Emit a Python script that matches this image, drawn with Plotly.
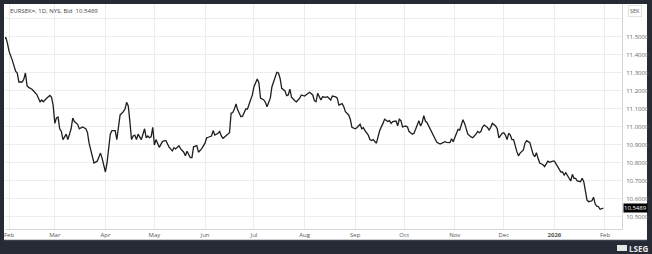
import plotly.graph_objects as go

dates = [
    "2025-01-29", "2025-01-30", "2025-01-31",
    "2025-02-01", "2025-02-03", "2025-02-04", "2025-02-05", "2025-02-06", "2025-02-07", "2025-02-09",
    "2025-02-10", "2025-02-11", "2025-02-12", "2025-02-13", "2025-02-15", "2025-02-16", "2025-02-18",
    "2025-02-19", "2025-02-20", "2025-02-21", "2025-02-22", "2025-02-24", "2025-02-26", "2025-02-27",
    "2025-02-28",
    "2025-03-01", "2025-03-02", "2025-03-03", "2025-03-04", "2025-03-05", "2025-03-06", "2025-03-08",
    "2025-03-09", "2025-03-11", "2025-03-12", "2025-03-13", "2025-03-15", "2025-03-16", "2025-03-18",
    "2025-03-20", "2025-03-21", "2025-03-22", "2025-03-24", "2025-03-25", "2025-03-27", "2025-03-28",
    "2025-03-29", "2025-03-30", "2025-03-31",
    "2025-04-01", "2025-04-02", "2025-04-04", "2025-04-05", "2025-04-07", "2025-04-08", "2025-04-09",
    "2025-04-10", "2025-04-12", "2025-04-13", "2025-04-14", "2025-04-15", "2025-04-16", "2025-04-17",
    "2025-04-18", "2025-04-19", "2025-04-20", "2025-04-21", "2025-04-22", "2025-04-23", "2025-04-25",
    "2025-04-26", "2025-04-27", "2025-04-28", "2025-04-29", "2025-04-30",
    "2025-05-01", "2025-05-02", "2025-05-04", "2025-05-06", "2025-05-08", "2025-05-09", "2025-05-10",
    "2025-05-12", "2025-05-13", "2025-05-14", "2025-05-16", "2025-05-17", "2025-05-19", "2025-05-20",
    "2025-05-21", "2025-05-23", "2025-05-24", "2025-05-25", "2025-05-27", "2025-05-28", "2025-05-30",
    "2025-06-01", "2025-06-02", "2025-06-03", "2025-06-05", "2025-06-06", "2025-06-07", "2025-06-09",
    "2025-06-10", "2025-06-11", "2025-06-12", "2025-06-13", "2025-06-15", "2025-06-16", "2025-06-17",
    "2025-06-18", "2025-06-19", "2025-06-20", "2025-06-21", "2025-06-23", "2025-06-24", "2025-06-26",
    "2025-06-27", "2025-06-28", "2025-06-30",
    "2025-07-01", "2025-07-03", "2025-07-04", "2025-07-05", "2025-07-07", "2025-07-08", "2025-07-09",
    "2025-07-11", "2025-07-12", "2025-07-14", "2025-07-15", "2025-07-16", "2025-07-17", "2025-07-18",
    "2025-07-20", "2025-07-21", "2025-07-22", "2025-07-23", "2025-07-24", "2025-07-26", "2025-07-27",
    "2025-07-29", "2025-07-30",
    "2025-08-01", "2025-08-02", "2025-08-04", "2025-08-06", "2025-08-07", "2025-08-08", "2025-08-09",
    "2025-08-11", "2025-08-12", "2025-08-14", "2025-08-15", "2025-08-17", "2025-08-18", "2025-08-20",
    "2025-08-21", "2025-08-22", "2025-08-24", "2025-08-25", "2025-08-26", "2025-08-28", "2025-08-29",
    "2025-08-30",
    "2025-09-01", "2025-09-02", "2025-09-04", "2025-09-05", "2025-09-06", "2025-09-07", "2025-09-09",
    "2025-09-10", "2025-09-11", "2025-09-12", "2025-09-14", "2025-09-15", "2025-09-16", "2025-09-18",
    "2025-09-19", "2025-09-21", "2025-09-22", "2025-09-23", "2025-09-24", "2025-09-26", "2025-09-27",
    "2025-09-28", "2025-09-29", "2025-09-30",
    "2025-10-02", "2025-10-03", "2025-10-04", "2025-10-06", "2025-10-07", "2025-10-08", "2025-10-10",
    "2025-10-11", "2025-10-12", "2025-10-13", "2025-10-14", "2025-10-15", "2025-10-17", "2025-10-18",
    "2025-10-20", "2025-10-21", "2025-10-23", "2025-10-25", "2025-10-26", "2025-10-27", "2025-10-29",
    "2025-10-30", "2025-10-31",
    "2025-11-03", "2025-11-04", "2025-11-05", "2025-11-06", "2025-11-07", "2025-11-08", "2025-11-09",
    "2025-11-11", "2025-11-12", "2025-11-14", "2025-11-15", "2025-11-16", "2025-11-17", "2025-11-18",
    "2025-11-19", "2025-11-21", "2025-11-22", "2025-11-23", "2025-11-24", "2025-11-26", "2025-11-27",
    "2025-11-28", "2025-11-30",
    "2025-12-01", "2025-12-02", "2025-12-03", "2025-12-04", "2025-12-05", "2025-12-06", "2025-12-07",
    "2025-12-08", "2025-12-09", "2025-12-10", "2025-12-11", "2025-12-13", "2025-12-14", "2025-12-15",
    "2025-12-17", "2025-12-18", "2025-12-19", "2025-12-20", "2025-12-21", "2025-12-22", "2025-12-23",
    "2025-12-25", "2025-12-26", "2025-12-28", "2025-12-29", "2025-12-31",
    "2026-01-01", "2026-01-02", "2026-01-04", "2026-01-05", "2026-01-06", "2026-01-07", "2026-01-08",
    "2026-01-10", "2026-01-11", "2026-01-12", "2026-01-13", "2026-01-14", "2026-01-15", "2026-01-17",
    "2026-01-18", "2026-01-19", "2026-01-20", "2026-01-21", "2026-01-22", "2026-01-24", "2026-01-25",
    "2026-01-26", "2026-01-27", "2026-01-28", "2026-01-29", "2026-01-31",
]

eursek = [
    11.487, 11.498, 11.465,
    11.42, 11.37, 11.335, 11.31, 11.30, 11.25, 11.25, 11.265, 11.30, 11.23, 11.22, 11.21, 11.20,
    11.18, 11.16, 11.14, 11.15, 11.14, 11.16, 11.175, 11.165, 11.12,
    11.02, 11.05, 11.055, 10.99, 10.975, 10.93, 10.96, 10.93, 10.99, 11.05, 11.03, 11.015, 10.99,
    11.00, 10.99, 10.97, 10.91, 10.826, 10.80, 10.81, 10.835, 10.855, 10.826, 10.78,
    10.75, 10.80, 10.96, 10.98, 10.98, 10.93, 11.00, 11.067, 11.085, 11.10, 11.137, 11.117, 11.03,
    10.93, 10.95, 10.955, 10.93, 10.96, 10.945, 10.93, 10.99, 10.94, 10.95, 10.94, 10.945, 10.998,
    10.90, 10.93, 10.887, 10.92, 10.925, 10.91, 10.888, 10.867, 10.885, 10.878, 10.896, 10.88,
    10.86, 10.84, 10.865, 10.83, 10.83, 10.89, 10.896, 10.86, 10.88,
    10.91, 10.94, 10.943, 10.95, 10.98, 10.955, 10.965, 10.975, 10.95, 10.937, 10.945, 10.96,
    10.968, 11.076, 11.08, 11.10, 11.128, 11.095, 11.057, 11.06, 11.10, 11.10, 11.13, 11.178,
    11.224, 11.267, 11.246, 11.16, 11.15, 11.137, 11.113, 11.16, 11.224, 11.28, 11.304, 11.30,
    11.27, 11.215, 11.20, 11.174, 11.178, 11.21, 11.165, 11.146, 11.14, 11.16, 11.178,
    11.172, 11.178, 11.193, 11.178, 11.146, 11.14, 11.187, 11.15, 11.168, 11.165, 11.168, 11.15,
    11.172, 11.168, 11.16, 11.122, 11.13, 11.113, 11.085, 11.067, 11.043, 10.998,
    10.99, 10.996, 11.015, 10.99, 10.996, 10.98, 10.955, 10.93, 10.925, 10.93, 10.91, 10.945,
    10.98, 11.02, 11.043, 11.03, 11.035, 11.02, 11.03, 11.033, 11.006, 11.043, 11.035, 11.00,
    11.006, 11.00, 10.975, 10.96, 10.965, 10.987, 11.035, 11.006, 11.024, 11.063, 11.033, 11.024,
    10.99, 10.965, 10.937, 10.915, 10.905, 10.915, 10.918, 10.915, 10.913, 10.935, 10.918,
    10.987, 10.983, 11.011, 11.04, 11.02, 10.99, 10.96, 10.945, 10.94, 10.96, 10.975, 10.968,
    10.975, 11.00, 11.011, 10.998, 10.983, 10.998, 11.02, 11.006, 10.99, 10.94, 10.965,
    10.968, 10.955, 10.93, 10.965, 10.955, 10.93, 10.93, 10.894, 10.863, 10.84, 10.855, 10.872,
    10.91, 10.924, 10.913, 10.88, 10.848, 10.835, 10.857, 10.826, 10.80, 10.79, 10.78, 10.81,
    10.804, 10.81,
    10.81, 10.795, 10.76, 10.75, 10.75, 10.733, 10.746, 10.715, 10.70, 10.737, 10.715, 10.715,
    10.70, 10.696, 10.715, 10.696, 10.65, 10.594, 10.585, 10.59, 10.61, 10.572, 10.56, 10.557,
    10.543, 10.5489,
]

x_tick_dates = ["2025-02-01", "2025-03-01", "2025-04-01", "2025-05-01", "2025-06-01", "2025-07-01",
                "2025-08-01", "2025-09-01", "2025-10-01", "2025-11-01", "2025-12-01", "2026-01-01",
                "2026-02-01"]
x_tick_labels = ["Feb", "Mar", "Apr", "May", "Jun", "Jul", "Aug", "Sep", "Oct", "Nov", "Dec",
                 "<b>2026</b>", "Feb"]
y_tick_values = [10.5, 10.6, 10.7, 10.8, 10.9, 11.0, 11.1, 11.2, 11.3, 11.4, 11.5, 11.6]
y_tick_labels = ["10.5000", "10.6000", "10.7000", "10.8000", "10.9000", "11.0000", "11.1000",
                 "11.2000", "11.3000", "11.4000", "11.5000", ""]

last_value = eursek[-1]
legend_text = "EURSEK=, 1D, NYS, Bid  %.4f" % last_value

W, H = 652, 254
ML, MR, MT, MB = 5, 30, 4, 25
PW = W - ML - MR
PH = H - MT - MB


def px(xp):
    return (xp - ML) / PW


def py(yp):
    return (H - MB - yp) / PH


FONT = "Open Sans, Liberation Sans, sans-serif"
GRID = "#ececec"

fig = go.Figure()
fig.add_trace(go.Scatter(
    x=dates, y=eursek, mode="lines",
    line=dict(color="#1e1e1e", width=1.3),
    hoverinfo="skip", showlegend=False,
))

fig.update_layout(
    width=W, height=H,
    margin=dict(l=ML, r=MR, t=MT, b=MB),
    paper_bgcolor="#252a35",
    plot_bgcolor="rgba(0,0,0,0)",
    showlegend=False,
    font=dict(family=FONT, size=6, color="#666"),
    xaxis=dict(
        type="date",
        range=["2025-01-29 12:00", "2026-02-11 10:00"],
        tickvals=x_tick_dates, ticktext=x_tick_labels,
        showgrid=True, gridcolor=GRID, gridwidth=1,
        zeroline=False, ticks="",
        showline=True, linecolor="#d6d6d6", linewidth=1,
        tickfont=dict(size=6, color="#555"),
    ),
    yaxis=dict(
        side="right",
        range=[10.4333, 11.6833],
        tickvals=y_tick_values, ticktext=y_tick_labels,
        showgrid=True, gridcolor=GRID, gridwidth=1,
        zeroline=False, ticks="",
        showline=True, linecolor="#d6d6d6", linewidth=1,
        tickfont=dict(size=6, color="#666"),
        ticklabelstandoff=2,
    ),
    shapes=[
        dict(type="rect", xref="paper", yref="paper", layer="below",
             x0=px(4), x1=px(647), y0=py(240), y1=py(4),
             fillcolor="white", line=dict(width=0)),
        dict(type="line", xref="paper", yref="paper",
             x0=px(4), x1=px(647), y0=py(240.5), y1=py(240.5),
             line=dict(color="#3a3f48", width=1.5)),
        dict(type="rect", xref="paper", yref="paper",
             x0=px(617), x1=px(627), y0=py(251), y1=py(245),
             fillcolor="#e6e6e6", line=dict(width=0)),
    ],
    annotations=[
        dict(xref="paper", yref="paper", x=px(8), y=py(11), xanchor="left", yanchor="middle",
             text=legend_text, showarrow=False, font=dict(size=6, color="#444")),
        dict(xref="paper", yref="paper", x=px(635), y=py(11), xanchor="center", yanchor="middle",
             text="SEK", showarrow=False, font=dict(size=5.5, color="#555"),
             bgcolor="white", bordercolor="#e2e2e2", borderwidth=1, borderpad=1),
        dict(xref="paper", yref="y", x=px(623), y=last_value, xanchor="left", yanchor="middle",
             text="%.4f" % last_value, showarrow=False, font=dict(size=6, color="white"),
             bgcolor="black", borderpad=0),
        dict(xref="paper", yref="paper", x=px(638), y=py(248), xanchor="center", yanchor="middle",
             text="<b>LSEG</b>", showarrow=False, font=dict(size=8, color="#e8e8e8")),
    ],
)

fig.write_html("out.html")
